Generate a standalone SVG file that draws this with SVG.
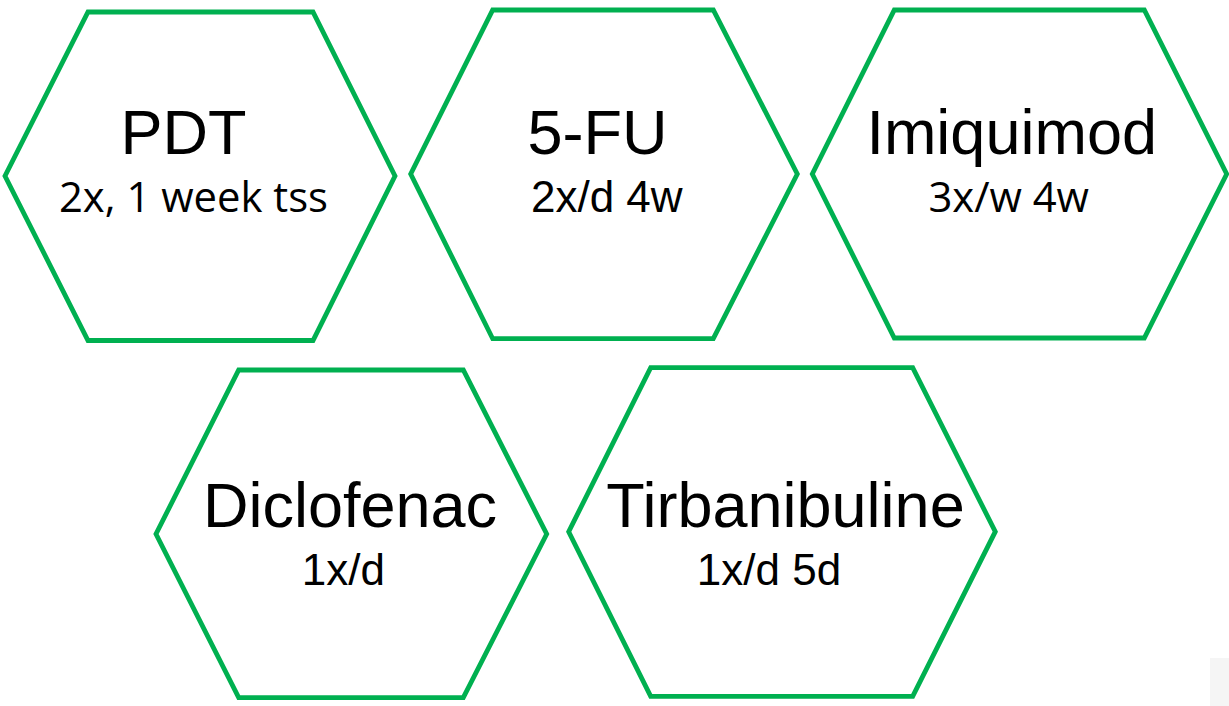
<svg xmlns="http://www.w3.org/2000/svg" width="1229" height="706" viewBox="0 0 1229 706">
  <style>
    .hex { fill: #ffffff; stroke: #00b050; stroke-width: 4.8; stroke-linejoin: miter; }
    .title { font-family: "Liberation Sans", Arial, sans-serif; font-size: 63px; fill: #000000; text-anchor: middle; }
    .sub { font-family: "Liberation Sans", Arial, sans-serif; font-size: 44px; fill: #000000; text-anchor: middle; }
    .sub2 { font-family: "Open Sans", "Noto Sans", sans-serif; font-size: 41.8px; fill: #000000; text-anchor: middle; }
  </style>
  <rect width="1229" height="706" fill="#ffffff"/>
  <rect x="1210" y="658" width="19" height="48" fill="#f5f5f5"/>

  <g id="node-pdt">
    <polygon class="hex" points="88,12 313,12 395,176 313,340.5 88,340.5 5,176"/>
    <text class="title" x="183.5" y="154">PDT</text>
    <text class="sub2" x="193.5" y="212">2x, 1 week tss</text>
  </g>

  <g id="node-5fu">
    <polygon class="hex" points="492.7,10 713.3,10 797.3,174 713.3,338.7 492.7,338.7 410.7,174"/>
    <text class="title" x="597.5" y="154">5-FU</text>
    <text class="sub" x="606.8" y="212">2x/d 4w</text>
  </g>

  <g id="node-imiquimod">
    <polygon class="hex" points="894.3,10 1144.3,10 1226.7,174 1144.3,338 894.3,338 812.3,174"/>
    <text class="title" x="1011.7" y="154">Imiquimod</text>
    <text class="sub2" x="1008.7" y="212">3x/w 4w</text>
  </g>

  <g id="node-diclofenac">
    <polygon class="hex" points="238.7,370 463.3,370 546.7,534 463.3,697.7 238.7,697.7 156,534"/>
    <text class="title" x="350" y="527">Diclofenac</text>
    <text class="sub" x="343.3" y="585">1x/d</text>
  </g>

  <g id="node-tirbanibuline">
    <polygon class="hex" points="650.7,367.7 912.7,367.7 995.3,531.7 912.7,696.3 650.7,696.3 568.7,531.7"/>
    <text class="title" x="785.5" y="527">Tirbanibuline</text>
    <text class="sub" x="769" y="585">1x/d 5d</text>
  </g>

  <g id="connectors"></g>
</svg>
